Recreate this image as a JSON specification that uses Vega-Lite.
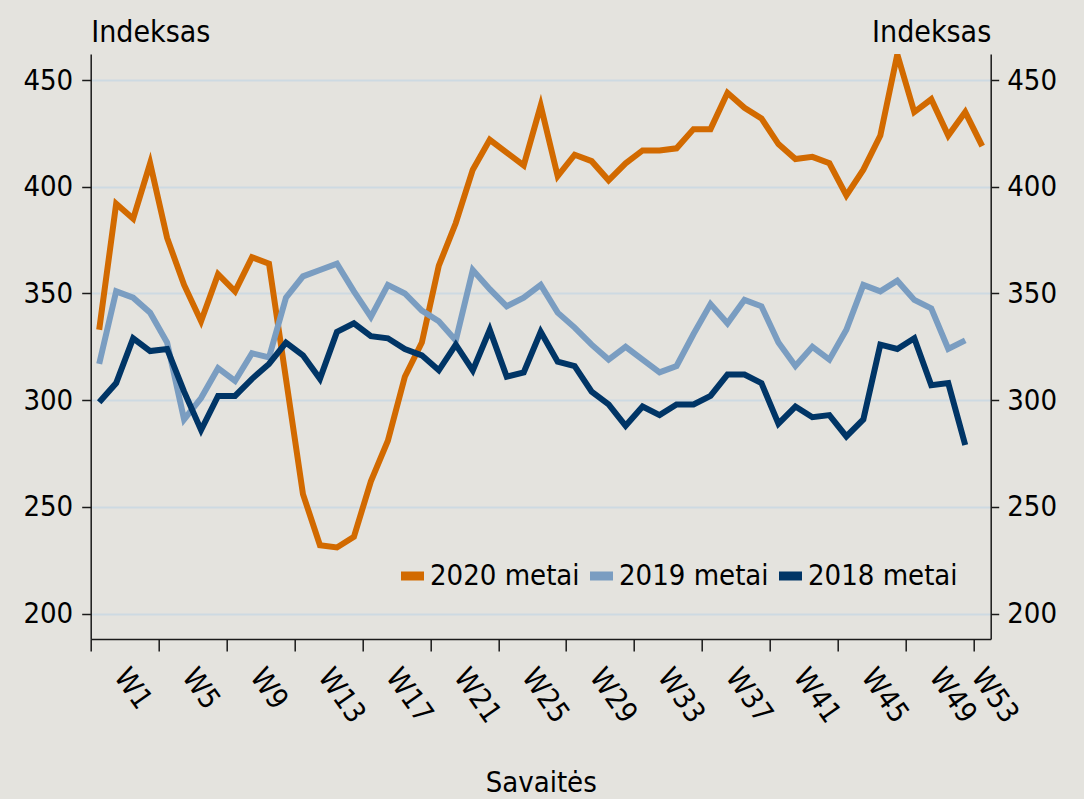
{
  "$schema": "https://vega.github.io/schema/vega-lite/v6.json",
  "autosize": {"type": "none"},
  "padding": {"left": 90.7, "top": 54, "right": 93.3, "bottom": 160},
  "width": 900,
  "height": 585,
  "background": "#e4e3de",
  "config": {
    "view": {"stroke": null},
    "font": "DejaVu Sans Condensed",
    "axis": {
      "labelFont": "DejaVu Sans Condensed",
      "titleFont": "DejaVu Sans Condensed",
      "labelColor": "#000000",
      "titleColor": "#000000",
      "titleFontWeight": "normal",
      "domainColor": "#1a1a1a",
      "tickColor": "#1a1a1a",
      "domainWidth": 1.5,
      "tickWidth": 1.5
    },
    "legend": {
      "labelFont": "DejaVu Sans Condensed"
    }
  },
  "data": {
    "values": [
      {"w":1,"s":"2020 metai","v":333},{"w":2,"s":"2020 metai","v":392},{"w":3,"s":"2020 metai","v":385},{"w":4,"s":"2020 metai","v":411},{"w":5,"s":"2020 metai","v":376},{"w":6,"s":"2020 metai","v":354},{"w":7,"s":"2020 metai","v":337},{"w":8,"s":"2020 metai","v":359},{"w":9,"s":"2020 metai","v":351},{"w":10,"s":"2020 metai","v":367},
      {"w":11,"s":"2020 metai","v":364},{"w":12,"s":"2020 metai","v":310},{"w":13,"s":"2020 metai","v":256},{"w":14,"s":"2020 metai","v":232},{"w":15,"s":"2020 metai","v":231},{"w":16,"s":"2020 metai","v":236},{"w":17,"s":"2020 metai","v":262},{"w":18,"s":"2020 metai","v":281},{"w":19,"s":"2020 metai","v":311},{"w":20,"s":"2020 metai","v":327},
      {"w":21,"s":"2020 metai","v":363},{"w":22,"s":"2020 metai","v":383},{"w":23,"s":"2020 metai","v":408},{"w":24,"s":"2020 metai","v":422},{"w":25,"s":"2020 metai","v":416},{"w":26,"s":"2020 metai","v":410},{"w":27,"s":"2020 metai","v":438},{"w":28,"s":"2020 metai","v":405},{"w":29,"s":"2020 metai","v":415},{"w":30,"s":"2020 metai","v":412},
      {"w":31,"s":"2020 metai","v":403},{"w":32,"s":"2020 metai","v":411},{"w":33,"s":"2020 metai","v":417},{"w":34,"s":"2020 metai","v":417},{"w":35,"s":"2020 metai","v":418},{"w":36,"s":"2020 metai","v":427},{"w":37,"s":"2020 metai","v":427},{"w":38,"s":"2020 metai","v":444},{"w":39,"s":"2020 metai","v":437},{"w":40,"s":"2020 metai","v":432},
      {"w":41,"s":"2020 metai","v":420},{"w":42,"s":"2020 metai","v":413},{"w":43,"s":"2020 metai","v":414},{"w":44,"s":"2020 metai","v":411},{"w":45,"s":"2020 metai","v":396},{"w":46,"s":"2020 metai","v":408},{"w":47,"s":"2020 metai","v":424},{"w":48,"s":"2020 metai","v":462},{"w":49,"s":"2020 metai","v":435},{"w":50,"s":"2020 metai","v":441},
      {"w":51,"s":"2020 metai","v":424},{"w":52,"s":"2020 metai","v":435},{"w":53,"s":"2020 metai","v":419},
      {"w":1,"s":"2019 metai","v":317},{"w":2,"s":"2019 metai","v":351},{"w":3,"s":"2019 metai","v":348},{"w":4,"s":"2019 metai","v":341},{"w":5,"s":"2019 metai","v":327},{"w":6,"s":"2019 metai","v":291},{"w":7,"s":"2019 metai","v":301},{"w":8,"s":"2019 metai","v":315},{"w":9,"s":"2019 metai","v":309},{"w":10,"s":"2019 metai","v":322},
      {"w":11,"s":"2019 metai","v":320},{"w":12,"s":"2019 metai","v":348},{"w":13,"s":"2019 metai","v":358},{"w":14,"s":"2019 metai","v":361},{"w":15,"s":"2019 metai","v":364},{"w":16,"s":"2019 metai","v":351},{"w":17,"s":"2019 metai","v":339},{"w":18,"s":"2019 metai","v":354},{"w":19,"s":"2019 metai","v":350},{"w":20,"s":"2019 metai","v":342},
      {"w":21,"s":"2019 metai","v":337},{"w":22,"s":"2019 metai","v":328},{"w":23,"s":"2019 metai","v":361},{"w":24,"s":"2019 metai","v":352},{"w":25,"s":"2019 metai","v":344},{"w":26,"s":"2019 metai","v":348},{"w":27,"s":"2019 metai","v":354},{"w":28,"s":"2019 metai","v":341},{"w":29,"s":"2019 metai","v":334},{"w":30,"s":"2019 metai","v":326},
      {"w":31,"s":"2019 metai","v":319},{"w":32,"s":"2019 metai","v":325},{"w":33,"s":"2019 metai","v":319},{"w":34,"s":"2019 metai","v":313},{"w":35,"s":"2019 metai","v":316},{"w":36,"s":"2019 metai","v":331},{"w":37,"s":"2019 metai","v":345},{"w":38,"s":"2019 metai","v":336},{"w":39,"s":"2019 metai","v":347},{"w":40,"s":"2019 metai","v":344},
      {"w":41,"s":"2019 metai","v":327},{"w":42,"s":"2019 metai","v":316},{"w":43,"s":"2019 metai","v":325},{"w":44,"s":"2019 metai","v":319},{"w":45,"s":"2019 metai","v":333},{"w":46,"s":"2019 metai","v":354},{"w":47,"s":"2019 metai","v":351},{"w":48,"s":"2019 metai","v":356},{"w":49,"s":"2019 metai","v":347},{"w":50,"s":"2019 metai","v":343},
      {"w":51,"s":"2019 metai","v":324},{"w":52,"s":"2019 metai","v":328},
      {"w":1,"s":"2018 metai","v":299},{"w":2,"s":"2018 metai","v":308},{"w":3,"s":"2018 metai","v":329},{"w":4,"s":"2018 metai","v":323},{"w":5,"s":"2018 metai","v":324},{"w":6,"s":"2018 metai","v":304},{"w":7,"s":"2018 metai","v":286},{"w":8,"s":"2018 metai","v":302},{"w":9,"s":"2018 metai","v":302},{"w":10,"s":"2018 metai","v":310},
      {"w":11,"s":"2018 metai","v":317},{"w":12,"s":"2018 metai","v":327},{"w":13,"s":"2018 metai","v":321},{"w":14,"s":"2018 metai","v":310},{"w":15,"s":"2018 metai","v":332},{"w":16,"s":"2018 metai","v":336},{"w":17,"s":"2018 metai","v":330},{"w":18,"s":"2018 metai","v":329},{"w":19,"s":"2018 metai","v":324},{"w":20,"s":"2018 metai","v":321},
      {"w":21,"s":"2018 metai","v":314},{"w":22,"s":"2018 metai","v":326},{"w":23,"s":"2018 metai","v":314},{"w":24,"s":"2018 metai","v":333},{"w":25,"s":"2018 metai","v":311},{"w":26,"s":"2018 metai","v":313},{"w":27,"s":"2018 metai","v":332},{"w":28,"s":"2018 metai","v":318},{"w":29,"s":"2018 metai","v":316},{"w":30,"s":"2018 metai","v":304},
      {"w":31,"s":"2018 metai","v":298},{"w":32,"s":"2018 metai","v":288},{"w":33,"s":"2018 metai","v":297},{"w":34,"s":"2018 metai","v":293},{"w":35,"s":"2018 metai","v":298},{"w":36,"s":"2018 metai","v":298},{"w":37,"s":"2018 metai","v":302},{"w":38,"s":"2018 metai","v":312},{"w":39,"s":"2018 metai","v":312},{"w":40,"s":"2018 metai","v":308},
      {"w":41,"s":"2018 metai","v":289},{"w":42,"s":"2018 metai","v":297},{"w":43,"s":"2018 metai","v":292},{"w":44,"s":"2018 metai","v":293},{"w":45,"s":"2018 metai","v":283},{"w":46,"s":"2018 metai","v":291},{"w":47,"s":"2018 metai","v":326},{"w":48,"s":"2018 metai","v":324},{"w":49,"s":"2018 metai","v":329},{"w":50,"s":"2018 metai","v":307},
      {"w":51,"s":"2018 metai","v":308},{"w":52,"s":"2018 metai","v":279}
    ]
  },
  "resolve": {"axis": {"y": "independent"}},
  "layer": [
    {
      "mark": {"type": "point", "opacity": 0},
      "encoding": {
        "x": {
          "field": "w", "type": "quantitative",
          "scale": {"domain": [0.5, 53.5], "nice": false, "zero": false},
          "axis": {
            "values": [0.5, 4.5, 8.5, 12.5, 16.5, 20.5, 24.5, 28.5, 32.5, 36.5, 40.5, 44.5, 48.5, 52.5],
            "labelExpr": "'W' + (datum.value + 0.5)",
            "labelAngle": 55,
            "labelAlign": "left",
            "labelBaseline": "top",
            "labelOffset": {"condition": {"test": "datum.value > 52", "value": 15}, "value": 41},
            "labelPadding": 12,
            "labelFontSize": 29,
            "labelOverlap": false,
            "labelFlush": false,
            "labelBound": false,
            "tickSize": 12,
            "grid": false,
            "title": "Savaitės",
            "titleFontSize": 29,
            "titleBaseline": "alphabetic",
            "titleY": 152
          }
        },
        "y": {
          "field": "v", "type": "quantitative",
          "scale": {"domain": [188.1, 462.2], "nice": false, "zero": false},
          "axis": {
            "orient": "right",
            "values": [200, 250, 300, 350, 400, 450],
            "grid": false,
            "tickSize": 8,
            "labelPadding": 8,
            "labelFontSize": 29,
            "title": "Indeksas",
            "titleFontSize": 30,
            "titleAngle": 0,
            "titleAlign": "right",
            "titleBaseline": "alphabetic",
            "titleX": 0,
            "titleY": -13
          }
        }
      }
    },
    {
      "mark": {"type": "line", "clip": true, "strokeJoin": "miter", "strokeCap": "butt", "strokeWidth": 6},
      "encoding": {
        "x": {
          "field": "w", "type": "quantitative",
          "scale": {"domain": [0.5, 53.5], "nice": false, "zero": false},
          "axis": {
            "values": [0.5, 4.5, 8.5, 12.5, 16.5, 20.5, 24.5, 28.5, 32.5, 36.5, 40.5, 44.5, 48.5, 52.5],
            "labelExpr": "'W' + (datum.value + 0.5)",
            "labelAngle": 55,
            "labelAlign": "left",
            "labelBaseline": "top",
            "labelOffset": {"condition": {"test": "datum.value > 52", "value": 15}, "value": 41},
            "labelPadding": 12,
            "labelFontSize": 29,
            "labelOverlap": false,
            "labelFlush": false,
            "labelBound": false,
            "tickSize": 12,
            "grid": false,
            "title": "Savaitės",
            "titleFontSize": 29,
            "titleBaseline": "alphabetic",
            "titleY": 152
          }
        },
        "y": {
          "field": "v", "type": "quantitative",
          "scale": {"domain": [188.1, 462.2], "nice": false, "zero": false},
          "axis": {
            "orient": "left",
            "values": [200, 250, 300, 350, 400, 450],
            "grid": true,
            "gridColor": "#cddae2",
            "gridWidth": 2,
            "tickSize": 9,
            "labelPadding": 9,
            "labelFontSize": 29,
            "title": "Indeksas",
            "titleFontSize": 30,
            "titleAngle": 0,
            "titleAlign": "left",
            "titleBaseline": "alphabetic",
            "titleX": 0,
            "titleY": -13
          }
        },
        "color": {
          "field": "s", "type": "nominal",
          "scale": {"domain": ["2020 metai", "2019 metai", "2018 metai"], "range": ["#d26a00", "#7a9dc1", "#003566"]},
          "legend": {
            "title": null,
            "orient": "none",
            "legendX": 305.8,
            "legendY": 506,
            "direction": "horizontal",
            "padding": 0,
            "columnPadding": -9,
            "labelOffset": 1.5,
            "labelFontSize": 29,
            "labelColor": "#000000",
            "labelLimit": 400,
            "symbolType": "stroke",
            "symbolSize": 529,
            "symbolStrokeWidth": 9
          }
        },
        "strokeWidth": {
          "condition": {"test": "datum.s === '2020 metai'", "value": 4.5},
          "value": 6
        }
      }
    }
  ]
}
